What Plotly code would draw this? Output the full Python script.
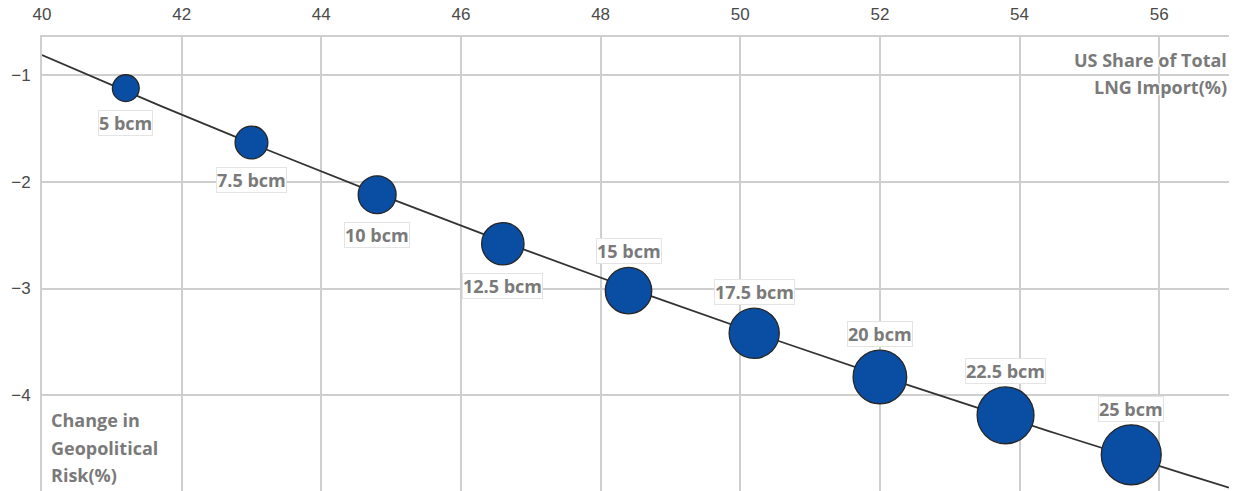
import numpy as np
import plotly.graph_objects as go

# Import volume scenarios and their outcomes
volumes_bcm = [5, 7.5, 10, 12.5, 15, 17.5, 20, 22.5, 25]
volume_labels = ["5 bcm", "7.5 bcm", "10 bcm", "12.5 bcm", "15 bcm",
                 "17.5 bcm", "20 bcm", "22.5 bcm", "25 bcm"]
us_share_pct = [41.2, 43.0, 44.8, 46.6, 48.4, 50.2, 52.0, 53.8, 55.6]
risk_change_pct = [-1.12, -1.63, -2.12, -2.58, -3.02, -3.42, -3.83, -4.19, -4.56]

x_ticks = [40, 42, 44, 46, 48, 50, 52, 54, 56]
y_ticks = [-1, -2, -3, -4]

x_title_lines = ["US Share of Total", "LNG Import(%)"]
y_title_lines = ["Change in", "Geopolitical", "Risk(%)"]

BLUE = "#0a4ea3"
GRID = "#cfcfcf"
TICK_COLOR = "#4a4a4a"
LABEL_COLOR = "#7a7a7a"
LABEL_FONT = "Open Sans"
SIZEREF = 2 * 5 / 26.8 ** 2


def bubble_diameter(v):
    return np.sqrt(2 * v / SIZEREF)


# Logarithmic trend through the scenario points
coef = np.polyfit(np.log(us_share_pct), risk_change_pct, 1)
trend_x = np.linspace(40, 57, 120)
trend_y = coef[0] * np.log(trend_x) + coef[1]

fig = go.Figure()
fig.add_trace(go.Scatter(
    x=trend_x, y=trend_y, mode="lines",
    line=dict(color="#333333", width=1.8),
    hoverinfo="skip", showlegend=False,
))
fig.add_trace(go.Scatter(
    x=us_share_pct, y=risk_change_pct, mode="markers",
    marker=dict(size=volumes_bcm, sizemode="area", sizeref=SIZEREF,
                color=BLUE, line=dict(color="#262626", width=1.3),
                opacity=1),
    text=volume_labels, hoverinfo="text", showlegend=False,
))

halo = ("1px 1px 1px #fff, -1px -1px 1px #fff, 1px -1px 1px #fff, "
        "-1px 1px 1px #fff")

annotations = []
for i, (x, y, lab, v) in enumerate(zip(us_share_pct, risk_change_pct,
                                        volume_labels, volumes_bcm)):
    radius = bubble_diameter(v) / 2
    below = i < 4
    shift = -(radius + 21) if below else (radius + 16)
    annotations.append(dict(
        x=x, y=y, xref="x", yref="y", text=f"<b>{lab}</b>",
        showarrow=False, yshift=shift,
        font=dict(family=LABEL_FONT, size=18, color=LABEL_COLOR),
        bgcolor="#ffffff", bordercolor="#e4e4e4", borderwidth=1, borderpad=0,
    ))

# Axis titles, one annotation per line for wider line spacing
for k, line in enumerate(x_title_lines):
    annotations.append(dict(
        x=1, y=1, xref="paper", yref="paper", xanchor="right",
        yanchor="middle", xshift=0, yshift=-23 - 27 * k, showarrow=False,
        text=f"<b>{line}</b>",
        font=dict(family=LABEL_FONT, size=18, color=LABEL_COLOR, shadow=halo),
    ))
n_y = len(y_title_lines)
for k, line in enumerate(y_title_lines):
    annotations.append(dict(
        x=0, y=0, xref="paper", yref="paper", xanchor="left",
        yanchor="middle", xshift=7, yshift=16 + 27.5 * (n_y - 1 - k),
        showarrow=False, text=f"<b>{line}</b>",
        font=dict(family=LABEL_FONT, size=18, color=LABEL_COLOR, shadow=halo),
    ))

fig.update_layout(
    width=1236, height=491,
    margin=dict(l=41.5, r=7, t=37, b=0),
    paper_bgcolor="#ffffff", plot_bgcolor="#ffffff",
    annotations=annotations,
    xaxis=dict(
        side="top", range=[40, 57], tickvals=x_ticks,
        showgrid=True, gridcolor=GRID, gridwidth=1.5,
        showline=True, linecolor=GRID, linewidth=1.5,
        zeroline=False, ticks="", ticklabelstandoff=8,
        tickfont=dict(family="Liberation Sans", size=17, color=TICK_COLOR),
    ),
    yaxis=dict(
        range=[-4.9, -0.64], tickvals=y_ticks,
        showgrid=True, gridcolor=GRID, gridwidth=1.5,
        showline=True, linecolor=GRID, linewidth=2,
        zeroline=False, ticks="", ticklabelstandoff=6,
        tickfont=dict(family="Liberation Sans", size=17, color=TICK_COLOR),
    ),
)

fig.write_html("out.html")
